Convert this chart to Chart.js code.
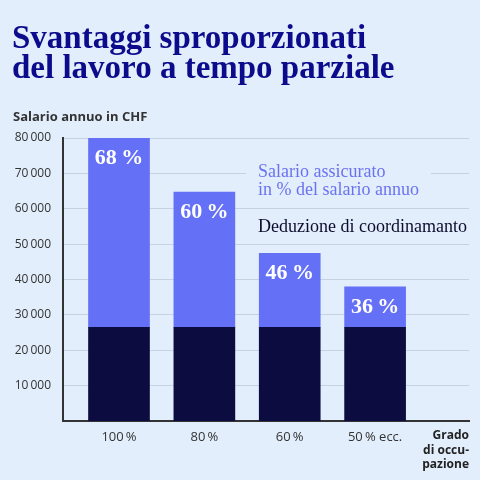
<!DOCTYPE html>
<html><head><meta charset="utf-8">
<script src="https://cdn.jsdelivr.net/npm/chart.js@4"></script>
<style>html,body{margin:0;padding:0;background:#e2eefc;}canvas{display:block}</style>
</head><body>
<div style="width:480px;height:480px"><canvas id="c" width="480" height="480"></canvas></div>
<script>
const categories = ["100\u2009%", "80\u2009%", "60\u2009%", "50\u2009% ecc."];
const deduction = [26500, 26500, 26500, 26500];
const insured = [53500, 38200, 20900, 11400];
const percentLabels = ["68\u2009%", "60\u2009%", "46\u2009%", "36\u2009%"];
const yTicks = [10000, 20000, 30000, 40000, 50000, 60000, 70000, 80000];
const BG = '#e2eefc';

const overlay = {
  id: 'overlay',
  afterDraw(chart) {
    const ctx = chart.ctx;
    ctx.save();
    ctx.fillStyle = '#0b0b8c';
    ctx.font = 'bold 33px "Liberation Serif"';
    ctx.textBaseline = 'alphabetic';
    ctx.textAlign = 'left';
    ctx.fillText('Svantaggi sproporzionati', 12, 48);
    ctx.fillText('del lavoro a tempo parziale', 12, 78);
    ctx.fillStyle = '#333';
    ctx.font = 'bold 13px "Open Sans"';
    ctx.fillText('Salario annuo in CHF', 13, 121);
    ctx.font = '18px "Liberation Serif"';
    const w1 = ctx.measureText('in % del salario annuo').width;
    ctx.fillStyle = BG;
    ctx.fillRect(246, 160, w1 + 24, 40);
    const w2 = ctx.measureText('Deduzione di coordinamanto').width;
    ctx.fillRect(250, 215, w2 + 12, 24);
    ctx.fillStyle = '#6b72f0';
    ctx.textBaseline = 'middle';
    ctx.fillText('Salario assicurato', 258, 172);
    ctx.fillText('in % del salario annuo', 258, 190);
    ctx.fillStyle = '#0c0c2e';
    ctx.fillText('Deduzione di coordinamanto', 258, 227);
    const meta = chart.getDatasetMeta(1);
    ctx.fillStyle = '#ffffff';
    ctx.font = 'bold 22px "Liberation Serif"';
    ctx.textAlign = 'center';
    meta.data.forEach((b, i) => {
      ctx.fillText(percentLabels[i], b.x, b.y + 20);
    });
    ctx.fillStyle = '#222';
    ctx.font = 'bold 12px "Open Sans"';
    ctx.textAlign = 'right';
    ['Grado', 'di occu-', 'pazione'].forEach((t, i) => ctx.fillText(t, 469, 436 + i * 14.5));
    ctx.restore();
  }
};

new Chart(document.getElementById('c'), {
  type: 'bar',
  data: {
    datasets: [
      { data: deduction.map((v, i) => ({x: i + 1, y: v})), backgroundColor: '#0c0c40', barThickness: 61 },
      { data: insured.map((v, i) => ({x: i + 1, y: v})), backgroundColor: '#6470f5', barThickness: 61 }
    ]
  },
  options: {
    responsive: false,
    animation: false,
    devicePixelRatio: 1,
    events: [],
    layout: { padding: { top: 138, right: 11, bottom: 0, left: 0 } },
    plugins: { legend: { display: false }, tooltip: { enabled: false } },
    scales: {
      x: {
        type: 'linear', stacked: true, min: 0.344, max: 5.1, offset: false,
        afterBuildTicks: s => { s.ticks = categories.map((c, i) => ({value: i + 1})); },
        afterFit: s => { s.height = 59; },
        grid: { display: false, drawTicks: false },
        border: { color: '#333', width: 2 },
        ticks: { callback: v => categories[v - 1] || '', color: '#333', font: { family: 'Open Sans', size: 13 }, padding: 8, maxRotation: 0, autoSkip: false }
      },
      y: {
        stacked: true, min: 0, max: 80000,
        afterBuildTicks: s => { s.ticks = yTicks.map(v => ({value: v})); },
        afterFit: s => { s.width = 63; },
        grid: { color: '#c5d2e3', drawTicks: false, lineWidth: 1 },
        border: { color: '#333', width: 2 },
        ticks: { callback: v => String(v).replace(/(\d)(\d{3})$/, '$1\u2009$2'), color: '#333', font: { family: 'Open Sans', size: 12 }, padding: 12 }
      }
    }
  },
  plugins: [overlay]
});
</script>
</body></html>
